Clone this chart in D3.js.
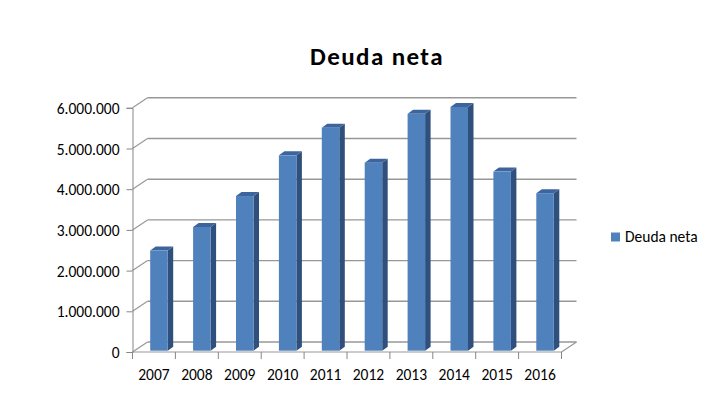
<!DOCTYPE html>
<html>
<head>
<meta charset="utf-8">
<script src="https://cdn.jsdelivr.net/npm/d3@7"></script>
<style>
  html, body { margin: 0; padding: 0; background: #fff; }
  svg text { font-family: Carlito, "Open Sans", Lato, sans-serif; fill: #000; }
</style>
</head>
<body>
<svg id="chart" width="726" height="398"></svg>
<script>
const years = ['2007', '2008', '2009', '2010', '2011', '2012', '2013', '2014', '2015', '2016'];
const deudaNeta = [2460000, 3040000, 3800000, 4800000, 5480000, 4620000, 5820000, 5990000, 4400000, 3870000];
const yTicks = [0, 1000000, 2000000, 3000000, 4000000, 5000000, 6000000];
const seriesName = 'Deuda neta';

const svg = d3.select('#chart');

// 3D look: back wall sits up and to the right of the front axis
const depth = { dx: 15, dy: -10 };
const barSide = { dx: 5.5, dy: -4 };

const x = d3.scaleBand()
  .domain(years)
  .range([132.5, 561.5])
  .padding(0);

const y = d3.scaleLinear()
  .domain([0, 6000000])
  .range([352, 107.8]);

const fmt = d3.formatLocale({ decimal: ',', thousands: '.', grouping: [3], currency: ['', '€'] }).format(',d');

const gridColor = '#979797';
const axisColor = '#868686';
const labelSize = '15.5px';

// TITLE
svg.append('text')
  .attr('x', 377)
  .attr('y', 64.5)
  .attr('text-anchor', 'middle')
  .style('font-size', '25px')
  .style('font-weight', 'bold')
  .style('letter-spacing', '1.4px')
  .text(seriesName);

// GRIDLINES on back wall + diagonal on side
const grid = svg.append('g').attr('class', 'grid');
grid.selectAll('line.back')
  .data(yTicks)
  .enter()
  .append('line')
  .attr('class', 'back')
  .attr('x1', x.range()[0] + depth.dx)
  .attr('x2', x.range()[1] + depth.dx)
  .attr('y1', d => y(d) + depth.dy)
  .attr('y2', d => y(d) + depth.dy)
  .style('stroke', gridColor)
  .style('stroke-width', 1.4);

grid.selectAll('line.side')
  .data(yTicks)
  .enter()
  .append('line')
  .attr('class', 'side')
  .attr('x1', x.range()[0])
  .attr('x2', x.range()[0] + depth.dx)
  .attr('y1', d => y(d))
  .attr('y2', d => y(d) + depth.dy)
  .style('stroke', gridColor)
  .style('stroke-width', 1.2);

// floor edges
const floor = svg.append('g').attr('class', 'floor');
floor.append('line')
  .attr('x1', x.range()[0]).attr('x2', x.range()[1])
  .attr('y1', y(0)).attr('y2', y(0))
  .style('stroke', gridColor).style('stroke-width', 1.2);
floor.append('line')
  .attr('x1', x.range()[1]).attr('x2', x.range()[1] + depth.dx)
  .attr('y1', y(0)).attr('y2', y(0) + depth.dy)
  .style('stroke', gridColor).style('stroke-width', 1.2);

// Y AXIS
const yAxis = svg.append('g')
  .attr('transform', `translate(${x.range()[0]},0)`)
  .call(d3.axisLeft(y).tickValues(yTicks).tickFormat(fmt).tickSize(6).tickPadding(7));
yAxis.select('.domain').style('stroke', axisColor);
yAxis.selectAll('.tick line').style('stroke', axisColor);
yAxis.selectAll('.tick text')
  .style('font-size', labelSize)
  .style('font-family', 'Carlito, "Open Sans", Lato, sans-serif')
  .attr('dy', '0.36em');

// X AXIS (ticks at slot boundaries)
const xAxis = svg.append('g').attr('class', 'x-axis');
const bounds = d3.range(years.length + 1).map(i => x.range()[0] + i * x.step());
xAxis.selectAll('line')
  .data(bounds)
  .enter()
  .append('line')
  .attr('x1', d => d).attr('x2', d => d)
  .attr('y1', y(0)).attr('y2', y(0) + 7)
  .style('stroke', axisColor);
xAxis.selectAll('text')
  .data(years)
  .enter()
  .append('text')
  .attr('x', d => x(d) + x.bandwidth() / 2)
  .attr('y', 380)
  .attr('text-anchor', 'middle')
  .style('font-size', labelSize)
  .text(d => d);

// BARS
const barW = 17.5;
const barOff = { dx: 5, dy: -1.3 };
const bars = svg.append('g')
  .attr('class', 'bars')
  .selectAll('g')
  .data(years.map((yr, i) => ({ year: yr, value: deudaNeta[i] })))
  .enter()
  .append('g');

bars.each(function (d) {
  const g = d3.select(this);
  const x0 = x(d.year) + x.bandwidth() / 2 + barOff.dx - barW / 2;
  const x1 = x0 + barW;
  const yb = y(0) + barOff.dy;
  const yt = y(d.value) + barOff.dy;
  // side face
  g.append('path')
    .attr('d', `M${x1},${yt} L${x1 + barSide.dx},${yt + barSide.dy} L${x1 + barSide.dx},${yb + barSide.dy} L${x1},${yb} Z`)
    .attr('fill', '#2f507d');
  // top face
  g.append('path')
    .attr('d', `M${x0},${yt} L${x0 + barSide.dx},${yt + barSide.dy} L${x1 + barSide.dx},${yt + barSide.dy} L${x1},${yt} Z`)
    .attr('fill', '#3c649d');
  // front face
  g.append('rect')
    .attr('x', x0)
    .attr('y', yt)
    .attr('width', barW)
    .attr('height', yb - yt)
    .attr('fill', '#4f81bd');
});

// LEGEND
const legend = svg.append('g').attr('transform', 'translate(611,232.5)');
legend.append('rect')
  .attr('width', 9).attr('height', 9)
  .attr('fill', '#4f81bd');
legend.append('text')
  .attr('x', 14)
  .attr('y', 9)
  .style('font-size', labelSize)
  .text(seriesName);
</script>
</body>
</html>
